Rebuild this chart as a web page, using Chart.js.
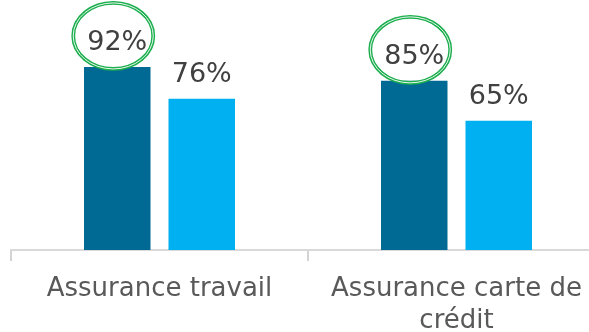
<!DOCTYPE html>
<html>
<head>
<meta charset="utf-8">
<script src="https://cdn.jsdelivr.net/npm/chart.js@4.4.0/dist/chart.umd.min.js"></script>
<style>
  html, body { margin: 0; padding: 0; background: #fff; overflow: hidden; }
  #wrap { width: 589px; height: 332px; overflow: hidden; }
</style>
</head>
<body>
<div id="wrap">
  <canvas id="chart" width="605" height="332"></canvas>
</div>
<script>
const categories = ["Assurance travail", ["Assurance carte de", "crédit"]];
const seriesA = [92, 85];
const seriesB = [76, 65];

// étiquettes de valeur au-dessus des barres
const valueLabels = {
  id: "valueLabels",
  afterDatasetsDraw(chart) {
    const ctx = chart.ctx;
    ctx.save();
    ctx.font = '27px "DejaVu Sans"';
    ctx.fillStyle = "#404040";
    ctx.textAlign = "center";
    ctx.textBaseline = "alphabetic";
    chart.data.datasets.forEach((ds, i) => {
      chart.getDatasetMeta(i).data.forEach((bar, j) => {
        ctx.fillText(ds.data[j] + "%", bar.x, bar.y - 17);
      });
    });
    ctx.restore();
  },
};

// cercles verts autour des valeurs de la première série
const greenCircles = {
  id: "greenCircles",
  afterDraw(chart) {
    const ctx = chart.ctx;
    ctx.save();
    chart.getDatasetMeta(0).data.forEach((bar) => {
      const cx = bar.x - 4;
      const cy = bar.y - 31;
      ctx.beginPath();
      ctx.ellipse(cx, cy, 40, 33, 0, 0, Math.PI * 2);
      ctx.strokeStyle = "#1dae4e";
      ctx.lineWidth = 3.8;
      ctx.stroke();
      ctx.beginPath();
      ctx.ellipse(cx, cy, 40, 33, 0, 0, Math.PI * 2);
      ctx.strokeStyle = "#ffffff";
      ctx.lineWidth = 0.9;
      ctx.stroke();
    });
    ctx.restore();
  },
};

new Chart(document.getElementById("chart"), {
  type: "bar",
  data: {
    labels: categories,
    datasets: [
      {
        label: "A",
        data: seriesA,
        backgroundColor: "#006a94",
        categoryPercentage: 0.569,
        barPercentage: 0.787,
      },
      {
        label: "B",
        data: seriesB,
        backgroundColor: "#00b0f0",
        categoryPercentage: 0.569,
        barPercentage: 0.787,
      },
    ],
  },
  options: {
    responsive: false,
    animation: false,
    layout: { padding: { top: 51, left: 11, right: 0, bottom: 0 } },
    plugins: {
      legend: { display: false },
      tooltip: { enabled: false },
    },
    scales: {
      x: {
        grid: {
          display: true,
          drawOnChartArea: false,
          drawTicks: true,
          tickLength: 11,
          color: "#d4d4d4",
          lineWidth: 2,
          offset: true,
        },
        border: { display: true, color: "#d9d9d9", width: 2 },
        ticks: {
          color: "#595959",
          font: { family: "DejaVu Sans", size: 26, lineHeight: 1.2 },
          padding: 13,
          maxRotation: 0,
          autoSkip: false,
        },
        afterFit(scale) {
          scale.height = 82;
        },
      },
      y: { display: false, min: 0, max: 100 },
    },
  },
  plugins: [valueLabels, greenCircles],
});
</script>
</body>
</html>
